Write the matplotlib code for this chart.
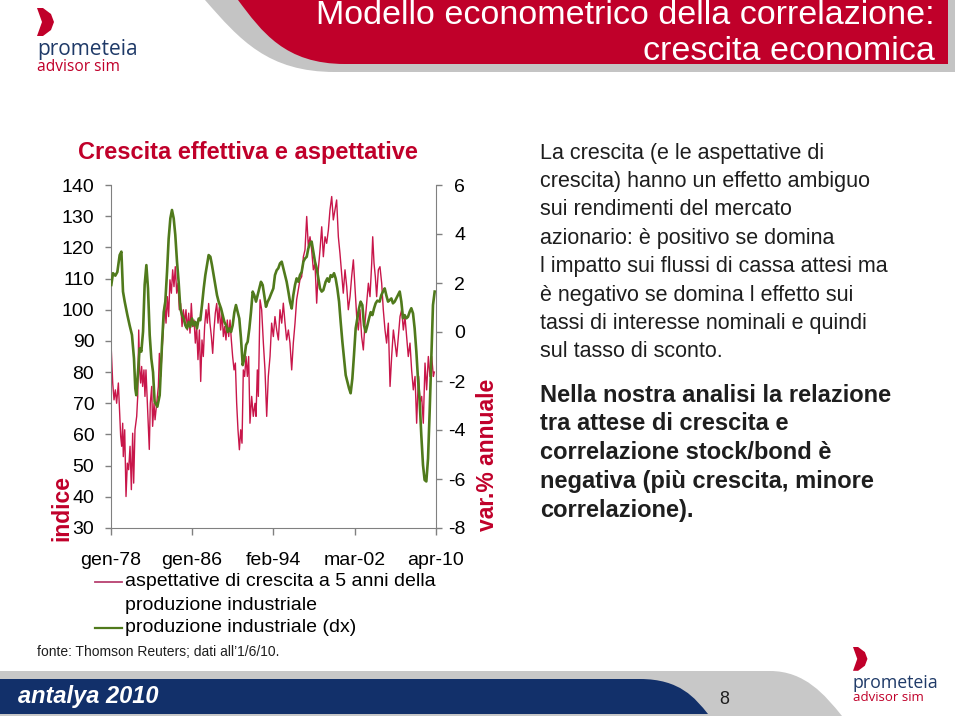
import matplotlib
matplotlib.use('Agg')
import matplotlib.pyplot as plt
from matplotlib.patches import PathPatch, Polygon
from matplotlib.path import Path
from matplotlib.lines import Line2D

# --- data (decimal years) ---
# aspettative di crescita a 5 anni della produzione industriale (sx, indice)
exp_years = [
    1978.00, 1978.17, 1978.30, 1978.43, 1978.56, 1978.73, 1978.83, 1978.96, 1979.06, 1979.16,
    1979.22, 1979.36, 1979.49, 1979.62, 1979.75, 1979.89, 1980.02, 1980.15, 1980.25, 1980.38,
    1980.55, 1980.65, 1980.75, 1980.84, 1980.94, 1981.04, 1981.14, 1981.27, 1981.37, 1981.47,
    1981.61, 1981.70, 1981.80, 1981.90, 1982.04, 1982.13, 1982.27, 1982.37, 1982.53, 1982.70,
    1982.80, 1982.93, 1983.03, 1983.19, 1983.33, 1983.46, 1983.59, 1983.72, 1983.85, 1983.99,
    1984.12, 1984.25, 1984.38, 1984.52, 1984.65, 1984.78, 1984.91, 1985.05, 1985.18, 1985.31,
    1985.44, 1985.58, 1985.71, 1985.84, 1985.97, 1986.10, 1986.24, 1986.37, 1986.50, 1986.63,
    1986.77, 1986.90, 1987.03, 1987.16, 1987.29, 1987.43, 1987.56, 1987.69, 1987.82, 1987.96,
    1988.09, 1988.22, 1988.35, 1988.49, 1988.62, 1988.75, 1988.88, 1989.02, 1989.15, 1989.28,
    1989.41, 1989.54, 1989.68, 1989.81, 1989.94, 1990.07, 1990.21, 1990.34, 1990.47, 1990.60,
    1990.74, 1990.87, 1991.00, 1991.13, 1991.26, 1991.40, 1991.53, 1991.66, 1991.79, 1991.96,
    1992.12, 1992.29, 1992.39, 1992.52, 1992.62, 1992.79, 1992.95, 1993.12, 1993.28, 1993.45,
    1993.61, 1993.78, 1993.94, 1994.11, 1994.27, 1994.44, 1994.61, 1994.77, 1994.94, 1995.10,
    1995.27, 1995.43, 1995.60, 1995.76, 1995.93, 1996.09, 1996.26, 1996.42, 1996.59, 1996.75,
    1996.92, 1997.09, 1997.25, 1997.42, 1997.58, 1997.75, 1997.91, 1998.08, 1998.24, 1998.41,
    1998.57, 1998.74, 1998.91, 1999.07, 1999.24, 1999.40, 1999.57, 1999.73, 1999.90, 2000.06,
    2000.23, 2000.39, 2000.56, 2000.72, 2000.89, 2001.05, 2001.22, 2001.39, 2001.55, 2001.72,
    2001.88, 2002.05, 2002.21, 2002.38, 2002.54, 2002.71, 2002.87, 2003.04, 2003.20, 2003.37,
    2003.54, 2003.70, 2003.87, 2003.97, 2004.10, 2004.23, 2004.36, 2004.53, 2004.69, 2004.86,
    2005.02, 2005.19, 2005.35, 2005.52, 2005.69, 2005.85, 2006.02, 2006.18, 2006.35, 2006.51,
    2006.68, 2006.84, 2007.01, 2007.17, 2007.34, 2007.50, 2007.67, 2007.83, 2008.00, 2008.17,
    2008.33, 2008.43, 2008.53, 2008.66, 2008.83, 2008.99, 2009.16, 2009.32, 2009.49, 2009.65,
    2009.82, 2009.99, 2010.08]
exp_values = [
    89.3, 76.5, 71.1, 74.3, 70.0, 76.5, 69.0, 59.4, 56.2, 63.6,
    52.9, 61.5, 40.1, 50.8, 48.7, 56.2, 42.3, 60.4, 44.4, 61.5,
    65.8, 72.2, 93.5, 80.7, 76.5, 81.8, 75.4, 80.7, 72.2, 80.7,
    70.0, 63.6, 55.2, 70.0, 75.4, 62.6, 70.0, 64.7, 70.0, 75.4,
    86.0, 78.6, 85.0, 93.5, 102.0, 95.7, 104.2, 97.8, 109.6, 105.3,
    112.8, 107.4, 113.8, 105.3, 108.5, 100.0, 102.0, 94.6, 100.0, 95.7,
    100.0, 93.5, 98.9, 92.5, 102.0, 94.6, 96.7, 89.3, 94.6, 84.0,
    93.5, 77.0, 90.3, 85.0, 94.6, 100.0, 95.7, 102.0, 95.7, 91.4,
    86.0, 93.5, 98.9, 102.0, 95.7, 101.0, 93.5, 98.9, 91.4, 94.6,
    90.3, 96.7, 91.4, 96.7, 90.3, 85.0, 80.7, 82.9, 70.0, 61.5,
    55.1, 61.5, 57.2, 80.7, 78.6, 85.0, 78.6, 85.0, 63.6, 72.2,
    65.8, 70.0, 65.8, 80.7, 72.2, 103.2, 100.0, 89.3, 80.7, 65.8,
    78.6, 85.0, 95.7, 91.4, 97.8, 93.5, 90.3, 100.0, 95.7, 102.1,
    95.7, 90.3, 93.5, 89.3, 80.7, 89.3, 95.7, 103.2, 106.4, 109.6,
    110.6, 117.0, 119.2, 129.9, 120.2, 123.4, 119.2, 112.8, 114.9, 102.1,
    112.8, 119.2, 126.6, 117.0, 123.4, 121.3, 125.6, 132.0, 136.3, 128.8,
    132.0, 135.2, 123.4, 118.1, 111.7, 105.3, 112.8, 107.4, 100.0, 104.2,
    110.6, 116.0, 107.4, 97.8, 93.5, 100.0, 91.4, 87.1, 95.7, 102.1,
    108.5, 104.2, 114.9, 123.4, 114.9, 110.6, 104.2, 112.8, 113.8, 108.5,
    100.0, 93.5, 89.3, 95.7, 75.4, 85.0, 93.5, 89.3, 85.0, 91.4,
    97.8, 100.0, 93.5, 97.8, 91.4, 85.0, 89.3, 80.7, 74.3, 78.6,
    63.6, 72.2, 78.6, 70.0, 72.2, 63.6, 82.9, 74.3, 85.0, 78.6,
    85.0, 78.6, 80.0]

# produzione industriale (dx, var. % annuale)
ip_years = [
    1978.03, 1978.20, 1978.43, 1978.63, 1978.86, 1979.03, 1979.19, 1979.36, 1979.62, 1979.85,
    1980.08, 1980.28, 1980.41, 1980.51, 1980.68, 1980.84, 1981.01, 1981.18, 1981.34, 1981.51,
    1981.67, 1981.84, 1982.00, 1982.17, 1982.33, 1982.60, 1982.83, 1983.06, 1983.23, 1983.39,
    1983.56, 1983.72, 1983.89, 1984.05, 1984.22, 1984.38, 1984.55, 1984.71, 1984.88, 1985.05,
    1985.21, 1985.38, 1985.54, 1985.71, 1985.87, 1986.04, 1986.20, 1986.37, 1986.53, 1986.70,
    1986.86, 1987.03, 1987.20, 1987.36, 1987.53, 1987.69, 1987.86, 1988.02, 1988.19, 1988.35,
    1988.52, 1988.68, 1988.92, 1989.08, 1989.25, 1989.42, 1989.58, 1989.75, 1989.91, 1990.07,
    1990.24, 1990.40, 1990.57, 1990.73, 1990.90, 1991.07, 1991.23, 1991.40, 1991.56, 1991.73,
    1991.89, 1992.06, 1992.22, 1992.39, 1992.55, 1992.72, 1992.88, 1993.05, 1993.21, 1993.38,
    1993.55, 1993.71, 1993.88, 1994.11, 1994.27, 1994.44, 1994.60, 1994.77, 1994.94, 1995.10,
    1995.27, 1995.43, 1995.60, 1995.76, 1995.93, 1996.09, 1996.26, 1996.42, 1996.59, 1996.75,
    1996.92, 1997.09, 1997.25, 1997.42, 1997.58, 1997.75, 1997.91, 1998.08, 1998.24, 1998.41,
    1998.57, 1998.74, 1998.91, 1999.07, 1999.30, 1999.47, 1999.63, 1999.80, 1999.96, 2000.13,
    2000.29, 2000.46, 2000.63, 2000.79, 2000.96, 2001.12, 2001.29, 2001.45, 2001.62, 2001.78,
    2001.95, 2002.11, 2002.28, 2002.44, 2002.61, 2002.77, 2002.94, 2003.11, 2003.27, 2003.44,
    2003.60, 2003.77, 2003.94, 2004.10, 2004.26, 2004.43, 2004.66, 2004.82, 2004.99, 2005.16,
    2005.32, 2005.49, 2005.65, 2005.82, 2005.98, 2006.15, 2006.31, 2006.48, 2006.65, 2006.81,
    2006.98, 2007.14, 2007.31, 2007.47, 2007.64, 2007.80, 2007.97, 2008.13, 2008.30, 2008.46,
    2008.63, 2008.79, 2008.96, 2009.12, 2009.29, 2009.46, 2009.62, 2009.79, 2009.95, 2010.12]
ip_values = [
    1.92, 2.40, 2.30, 2.45, 3.14, 3.28, 1.65, 1.24, 0.70, 0.27,
    -0.12, -1.08, -2.30, -2.58, -1.64, -0.67, -0.80, 0.02, 1.93, 2.73,
    1.78, -0.12, -1.08, -1.64, -2.85, -3.05, -2.58, -0.50, 0.81, 1.24,
    2.45, 3.80, 4.64, 4.98, 4.64, 3.96, 2.87, 2.05, 0.96, 0.69,
    0.55, 0.27, 0.15, 0.41, 0.21, 0.55, 0.27, 0.41, 0.15, 0.55,
    0.48, 1.10, 1.78, 2.32, 2.73, 3.14, 3.07, 2.73, 2.32, 1.92,
    1.50, 1.24, 0.96, 0.69, 0.41, 0.27, 0.00, 0.15, 0.00, 0.27,
    0.81, 1.10, 0.81, 0.55, -0.27, -1.35, -1.08, -0.53, -0.40, 0.15,
    0.81, 1.65, 1.50, 1.24, 1.50, 1.78, 2.05, 1.92, 1.50, 1.03,
    1.24, 1.37, 1.55, 1.78, 2.32, 2.52, 2.60, 2.80, 2.87, 2.60,
    2.32, 2.05, 1.65, 1.24, 0.96, 1.50, 1.92, 2.19, 2.05, 2.32,
    2.45, 2.87, 3.00, 3.07, 3.41, 3.62, 3.69, 3.28, 2.87, 2.60,
    2.19, 1.78, 1.65, 1.71, 2.05, 2.19, 2.05, 2.32, 2.25, 2.40,
    2.19, 1.78, 1.24, 0.41, -0.40, -1.08, -1.76, -2.03, -2.30, -2.50,
    -1.90, -0.95, 0.15, 0.55, 0.96, 1.24, 1.10, 0.27, 0.00, 0.27,
    0.55, 0.81, 0.69, 0.96, 1.17, 1.28, 1.24, 1.50, 1.65, 1.78,
    1.50, 1.24, 1.30, 1.37, 1.17, 1.24, 1.37, 1.50, 1.65, 1.24,
    0.56, 0.69, 0.56, 0.62, 0.83, 0.97, 0.76, 0.15, -0.80, -1.90,
    -2.84, -4.20, -5.43, -6.04, -6.10, -5.16, -3.25, -1.07, 1.10, 1.65]

tick_dates = [1978.0, 1986.0, 1994.083, 2002.167, 2010.25]
tick_labels = ['gen-78', 'gen-86', 'feb-94', 'mar-02', 'apr-10']
left_ticks = [30, 40, 50, 60, 70, 80, 90, 100, 110, 120, 130, 140]
right_ticks = [-8, -6, -4, -2, 0, 2, 4, 6]

body_lines = [
    "La crescita (e le aspettative di",
    "crescita) hanno un effetto ambiguo",
    "sui rendimenti del mercato",
    "azionario: è positivo se domina",
    "l impatto sui flussi di cassa attesi ma",
    "è negativo se domina l effetto sui",
    "tassi di interesse nominali e quindi",
    "sul tasso di sconto.",
]
bold_lines = [
    "Nella nostra analisi la relazione",
    "tra attese di crescita e",
    "correlazione stock/bond è",
    "negativa (più crescita, minore",
    "correlazione).",
]

RED = '#c8164a'
GREEN = '#507a1c'
BRAND_RED = '#c0002a'
NAVY = '#12306a'
TXT = '#1e1e1e'

plt.rcParams['font.family'] = ['Liberation Sans', 'DejaVu Sans']
plt.rcParams['axes.unicode_minus'] = False

fig = plt.figure(figsize=(9.6, 7.16), dpi=100)

# decoration layer in pixel coordinates
deco = fig.add_axes([0, 0, 1, 1], zorder=0)
deco.set_xlim(0, 960)
deco.set_ylim(716, 0)
deco.axis('off')

# header banner
gray_path = Path([(205, 0), (955, 0), (955, 72), (335, 72), (268, 72), (240, 40), (205, 0)],
                 [Path.MOVETO, Path.LINETO, Path.LINETO, Path.LINETO,
                  Path.CURVE4, Path.CURVE4, Path.CURVE4])
deco.add_patch(PathPatch(gray_path, facecolor='#c4c4c4', edgecolor='none'))
red_path = Path([(238, 0), (948, 0), (948, 64), (345, 64), (285, 64), (262, 32), (238, 0)],
                [Path.MOVETO, Path.LINETO, Path.LINETO, Path.LINETO,
                 Path.CURVE4, Path.CURVE4, Path.CURVE4])
deco.add_patch(PathPatch(red_path, facecolor=BRAND_RED, edgecolor='none'))
deco.text(935, 16, "Modello econometrico della correlazione:", color='white',
          fontsize=24.5, ha='right', va='center')
deco.text(935, 51, "crescita economica", color='white',
          fontsize=24.5, ha='right', va='center')


def draw_logo(x0, y0, scale=1.0):
    s = scale
    chev = [(x0, y0), (x0 + 6 * s, y0), (x0 + 14 * s, y0 + 6 * s), (x0 + 17 * s, y0 + 14 * s),
            (x0 + 14 * s, y0 + 22 * s), (x0 + 6 * s, y0 + 28 * s), (x0, y0 + 28 * s),
            (x0 + 5 * s, y0 + 14 * s)]
    deco.add_patch(Polygon(chev, closed=True, facecolor=BRAND_RED, edgecolor='none'))
    deco.text(x0, y0 + 42 * s, "prometeia", color='#1f3a68', fontsize=15 * s,
              ha='left', va='center', family=['Open Sans'])
    deco.text(x0, y0 + 59 * s, "advisor sim", color=BRAND_RED, fontsize=11.2 * s,
              ha='left', va='center', family=['Open Sans'])


draw_logo(37, 8)
draw_logo(853, 647, 0.85)

# subtitle
deco.text(78, 152, "Crescita effettiva e aspettative", color=BRAND_RED,
          fontsize=17, fontweight='bold', ha='left', va='center')

# body text
for i, line in enumerate(body_lines):
    deco.text(540, 153 + i * 28.4, line, color=TXT, fontsize=15.5, ha='left', va='center')
for i, line in enumerate(bold_lines):
    deco.text(540, 395 + i * 28.8, line, color=TXT, fontsize=17, fontweight='bold',
              ha='left', va='center')

# axis titles
deco.text(62, 541, "indice", color=BRAND_RED, fontsize=16.5, fontweight='bold',
          rotation=90, ha='center', va='bottom')
deco.text(487, 531, "var.% annuale", color=BRAND_RED, fontsize=16.5, fontweight='bold',
          rotation=90, ha='center', va='bottom')

# legend
deco.add_line(Line2D([95, 122], [582, 582], color='#b84070', lw=1.3))
deco.text(125, 581, "aspettative di crescita a 5 anni della", color='black',
          fontsize=14, ha='left', va='center')
deco.text(125, 606, "produzione industriale", color='black',
          fontsize=14, ha='left', va='center')
deco.add_line(Line2D([95, 122], [628, 628], color=GREEN, lw=1.6))
deco.text(125, 628, "produzione industriale (dx)", color='black',
          fontsize=14, ha='left', va='center')

# source
deco.text(37, 652, "fonte: Thomson Reuters; dati all’1/6/10.", color=TXT,
          fontsize=10, ha='left', va='center')

# footer bands
foot_gray = Path([(0, 671), (770, 671), (805, 671), (825, 695), (842, 716), (0, 716), (0, 671)],
                 [Path.MOVETO, Path.LINETO, Path.CURVE4, Path.CURVE4, Path.CURVE4,
                  Path.LINETO, Path.CLOSEPOLY])
deco.add_patch(PathPatch(foot_gray, facecolor='#c8c8c8', edgecolor='none'))
foot_navy = Path([(0, 679), (640, 679), (680, 679), (695, 698), (708, 714), (0, 714), (0, 679)],
                 [Path.MOVETO, Path.LINETO, Path.CURVE4, Path.CURVE4, Path.CURVE4,
                  Path.LINETO, Path.CLOSEPOLY])
deco.add_patch(PathPatch(foot_navy, facecolor=NAVY, edgecolor='none'))
deco.text(18, 696, "antalya 2010", color='white', fontsize=17, fontweight='bold',
          style='italic', ha='left', va='center')
deco.text(724, 700, "8", color=TXT, fontsize=13, ha='center', va='center')

# chart
ax = fig.add_axes([111 / 960, 1 - 528 / 716, 325 / 960, 343 / 716], zorder=2)
ax.patch.set_visible(False)
ax.plot(exp_years, exp_values, color=RED, lw=1.0)
ax.set_xlim(1978.0, 2010.25)
ax.set_ylim(30, 140)
ax.set_yticks(left_ticks)
ax.set_xticks(tick_dates)
ax.set_xticklabels(tick_labels)
ax.tick_params(axis='y', labelsize=14, length=4, width=1, color='#808080', pad=8)
ax.tick_params(axis='x', labelsize=14, length=5, width=1, color='#808080', pad=12)
ax.spines['top'].set_visible(False)
ax.spines['right'].set_visible(False)
for side in ('left', 'bottom'):
    ax.spines[side].set_color('#808080')

ax2 = ax.twinx()
ax2.plot(ip_years, ip_values, color=GREEN, lw=1.9)
ax2.set_ylim(-8, 6)
ax2.set_yticks(right_ticks)
ax2.tick_params(axis='y', labelsize=14, length=4, width=1, color='#808080', pad=17)
for t in ax2.get_yticklabels():
    t.set_horizontalalignment('right')
for side in ('top', 'left', 'bottom'):
    ax2.spines[side].set_visible(False)
ax2.spines['right'].set_color('#808080')

fig.savefig('out.png', dpi=100)
